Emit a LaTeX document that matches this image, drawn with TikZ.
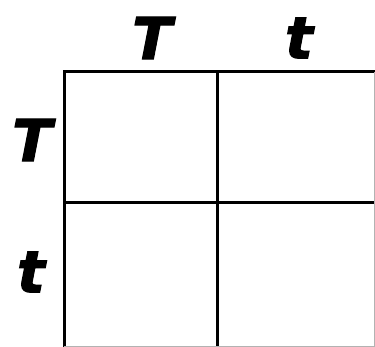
\documentclass[tikz,border=0pt]{standalone}
\usepackage{fontspec}
\newfontfamily\allelefont{DejaVu Sans Bold Oblique}[FakeBold=2]
\begin{document}
\begin{tikzpicture}[x=1pt,y=-1pt,
allele/.style={font=\allelefont\fontsize{58}{58}\selectfont,inner sep=0pt},
gridline/.style={line width=3pt}
]
\useasboundingbox (0,0) rectangle (375,347);
\coordinate (nw) at (64,72);
\coordinate (ne) at (375,72);
\coordinate (sw) at (64,347);
\coordinate (se) at (375,347);
\coordinate (mt) at (217,72);
\coordinate (mb) at (217,347);
\coordinate (ml) at (64,203);
\coordinate (mr) at (375,203);
\node[allele] (colT) at (152,38) {T};
\node[allele] (colt) at (299,38) {t};
\node[allele] (rowT) at (32,140) {T};
\node[allele] (rowt) at (31,272) {t};
\draw[gridline] (sw) -- (nw) -- (ne);
\draw[gridline] (mt) -- (mb);
\draw[gridline] (ml) -- (mr);
\draw[gray!60,line width=1pt] (ne) ++(-0.5,0) -- ([xshift=-0.5pt,yshift=0.5pt]se) -- ([yshift=0.5pt]sw);
\end{tikzpicture}
\end{document}
